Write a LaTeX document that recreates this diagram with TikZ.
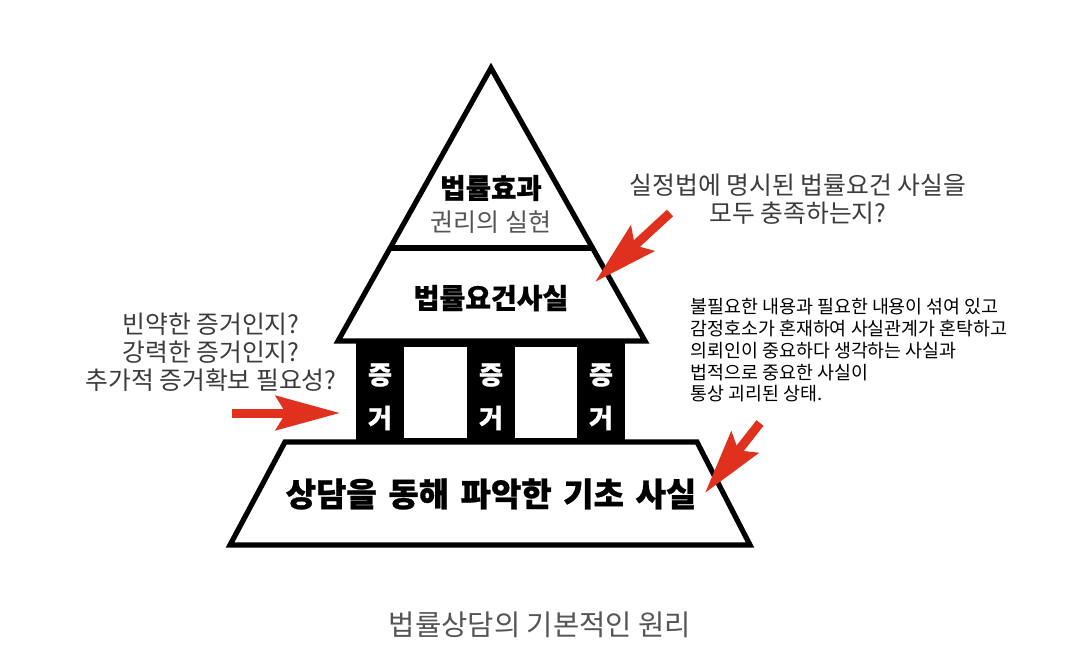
\documentclass[tikz,border=0pt]{standalone}
\usepackage{fontspec}
\setmainfont{Noto Sans CJK KR}
\usetikzlibrary{arrows.meta}
\definecolor{arrred}{HTML}{E0301E}
\definecolor{txtgray}{HTML}{3C3C3C}
\definecolor{capgray}{HTML}{555555}
\newcommand{\heavy}{\bfseries\addfontfeature{FakeBold=0.8}}
\tikzset{
  outline/.style={line width=2.6pt, line join=miter, draw=black},
  redarrow/.style={draw=arrred, line width=4.5pt,
    -{Stealth[length=32pt, width=17pt, inset=5pt, fill=arrred]}},
  colword/.style={text=white, font=\heavy\fontsize{13pt}{15pt}\selectfont, inner sep=0pt},
  note/.style={text=txtgray, align=center, inner sep=0pt,
    font=\fontsize{12.4pt}{14pt}\selectfont},
}
\begin{document}
\begin{tikzpicture}[x=0.5pt, y=-0.5pt]
\useasboundingbox[fill=white] (0,0) rectangle (1080,670);

% pyramid top triangle
\draw[outline] (491,68) -- (338,341) -- (645,341) -- cycle;
\draw[outline] (390,248) -- (592,248);

% columns
\fill[black] (356,341) rectangle (625,443);
\fill[white] (404,347) rectangle (467,438);
\fill[white] (515,347) rectangle (577,438);

% base trapezoid
\draw[outline] (285,442) -- (697,442) -- (750,545) -- (230,545) -- cycle;

% texts inside
\node[inner sep=0pt, font=\heavy\fontsize{13.8pt}{16pt}\selectfont] (effect) at (491,188) {법률효과};
\node[inner sep=0pt, text=capgray, font=\fontsize{12.5pt}{15pt}\selectfont] (right) at (491,222) {권리의 실현};
\node[inner sep=0pt, font=\heavy\fontsize{14pt}{16pt}\selectfont] (req) at (491,298) {법률요건사실};
\node[inner sep=0pt, font=\heavy\fontsize{16.5pt}{19pt}\selectfont] (base) at (491,494) {상담을\hspace{0.35em}동해\hspace{0.35em}파악한\hspace{0.35em}기초\hspace{0.35em}사실};

\node[colword] (c1a) at (380,375) {증};
\node[colword] (c1b) at (380,418) {거};
\node[colword] (c2a) at (491,375) {증};
\node[colword] (c2b) at (491,418) {거};
\node[colword] (c3a) at (601,375) {증};
\node[colword] (c3b) at (601,418) {거};

% annotations
\node[note] (qtop) at (798,199) {실정법에 명시된 법률요건 사실을\\모두 충족하는지?};
\node[note] (qleft) at (211,352) {빈약한 증거인지?\\강력한 증거인지?\\추가적 증거확보 필요성?};
\node[anchor=north west, align=left, inner sep=0pt, text=black,
  font=\fontsize{9.2pt}{10.9pt}\selectfont] (para) at (690,298)
  {불필요한 내용과 필요한 내용이 섞여 있고\\감정호소가 혼재하여 사실관계가 혼탁하고\\의뢰인이 중요하다 생각하는 사실과\\법적으로 중요한 사실이\\통상 괴리된 상태.};

% caption
\node[inner sep=0pt, text=capgray, font=\fontsize{14.3pt}{17pt}\selectfont] (cap) at (540,625) {법률상담의 기본적인 원리};

% red arrows
\coordinate (a1s) at (232,413);
\coordinate (a1e) at (340,413);
\coordinate (a2s) at (670,213);
\coordinate (a2e) at (595,282);
\coordinate (a3s) at (760,423);
\coordinate (a3e) at (705,493);
\draw[redarrow] (a1s) -- (a1e);
\draw[redarrow] (a2s) -- (a2e);
\draw[redarrow] (a3s) -- (a3e);
\end{tikzpicture}
\end{document}
